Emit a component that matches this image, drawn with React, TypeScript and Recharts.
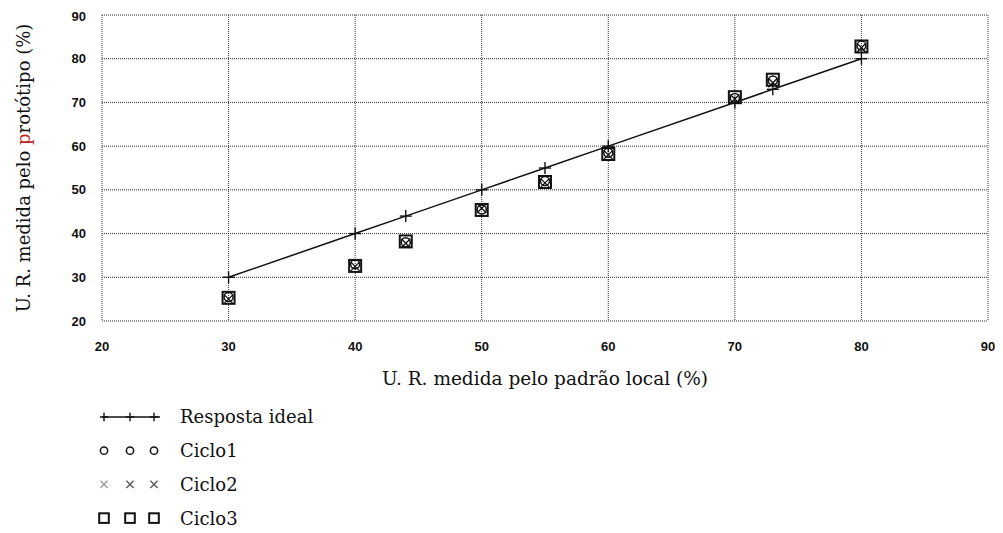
import React from "react";
import {
  ComposedChart,
  Line,
  XAxis,
  YAxis,
  CartesianGrid,
  Legend,
} from "recharts";

// U.R. from the local reference (x) vs. U.R. read by the prototype (y)
const padraoLocal = [30, 40, 44, 50, 55, 60, 70, 73, 80];
const respostaIdeal = [30, 40, 44, 50, 55, 60, 70, 73, 80];
const ciclo1 = [25.5, 33, 38, 45.5, 52, 58.5, 71, 75, 83];
const ciclo2 = [25, 32.5, 37.8, 45.8, 51.6, 58, 70.8, 74.5, 82.5];
const ciclo3 = [25.3, 32.6, 38.2, 45.4, 51.8, 58.2, 71.2, 75.2, 82.8];

const xTicks = [20, 30, 40, 50, 60, 70, 80, 90];
const yTicks = [20, 30, 40, 50, 60, 70, 80, 90];

const data = padraoLocal.map((x, i) => ({
  x,
  ideal: respostaIdeal[i],
  c1: ciclo1[i],
  c2: ciclo2[i],
  c3: ciclo3[i],
}));

type Mark = "plus" | "circle" | "cross" | "square";

const MARKS: Record<string, Mark> = {
  "Resposta ideal": "plus",
  Ciclo1: "circle",
  Ciclo2: "cross",
  Ciclo3: "square",
};
const LEGEND_ORDER = Object.keys(MARKS);

const SERIF = "'DejaVu Serif', 'Liberation Serif', serif";
const TICK_FONT = "'Liberation Sans', Arial, sans-serif";

function Symbol({ kind, cx, cy, s = 1, color = "#111" }: { kind: Mark; cx: number; cy: number; s?: number; color?: string }) {
  switch (kind) {
    case "plus":
      return (
        <g stroke={color} strokeWidth={1.4}>
          <line x1={cx - 6 * s} y1={cy} x2={cx + 6 * s} y2={cy} />
          <line x1={cx} y1={cy - 6 * s} x2={cx} y2={cy + 6 * s} />
        </g>
      );
    case "circle":
      return <circle cx={cx} cy={cy} r={4.5 * s} fill="none" stroke={color} strokeWidth={1.5} />;
    case "cross":
      return (
        <g stroke={color} strokeWidth={1.3}>
          <line x1={cx - 4.5 * s} y1={cy - 4.5 * s} x2={cx + 4.5 * s} y2={cy + 4.5 * s} />
          <line x1={cx - 4.5 * s} y1={cy + 4.5 * s} x2={cx + 4.5 * s} y2={cy - 4.5 * s} />
        </g>
      );
    default:
      return (
        <rect
          x={cx - 6 * s}
          y={cy - 6 * s}
          width={12 * s}
          height={12 * s}
          fill="none"
          stroke={color}
          strokeWidth={2}
        />
      );
  }
}

const dotFor = (kind: Mark, key: string) => (p: any) => {
  if (p.cx == null || p.cy == null) return <g key={`${key}-${p.index}`} />;
  return (
    <g key={`${key}-${p.index}`}>
      <Symbol kind={kind} cx={p.cx} cy={p.cy} />
    </g>
  );
};

function LegendBox({ payload }: any) {
  const rowH = 33.7;
  const items = [...(payload || [])].sort(
    (a: any, b: any) => LEGEND_ORDER.indexOf(a.value) - LEGEND_ORDER.indexOf(b.value)
  );
  return (
    <svg width={300} height={130} style={{ display: "block" }}>
      {items.map((item: any, i: number) => {
        const kind = MARKS[item.value];
        const cy = 12 + i * rowH;
        const xs = [10, 36, 60];
        return (
          <g key={item.value}>
            {kind === "plus" && (
              <line x1={8} y1={cy} x2={66} y2={cy} stroke="#111" strokeWidth={1.3} />
            )}
            {xs.map((sx, j) => (
              <Symbol
                key={j}
                kind={kind}
                cx={sx}
                cy={cy}
                s={kind === "plus" ? 0.7 : 0.8}
                color={kind === "cross" ? (j === 0 ? "#999" : "#555") : "#111"}
              />
            ))}
            <text
              x={86}
              y={cy}
              dy="0.36em"
              fontFamily={SERIF}
              fontSize={18}
              fill="#111"
            >
              {item.value}
            </text>
          </g>
        );
      })}
    </svg>
  );
}

export default function App() {
  return (
    <div style={{ width: 987, height: 517, background: "#fff" }}>
      <ComposedChart
        width={987}
        height={517}
        data={data}
        margin={{ top: 7, right: 7, left: 0, bottom: 134 }}
      >
        <CartesianGrid
          stroke="#333"
          strokeDasharray="1 1"
          strokeWidth={1}
          verticalValues={xTicks}
          horizontalValues={yTicks}
        />
        <XAxis
          dataKey="x"
          type="number"
          domain={[20, 90]}
          ticks={xTicks}
          tickLine={false}
          axisLine={false}
          tickSize={0}
          tickMargin={21}
          height={70}
          tick={{ fontFamily: TICK_FONT, fontSize: 13, fontWeight: 700, fill: "#111" }}
          label={{
            content: ({ viewBox }: any) => (
              <text
                x={viewBox.x + viewBox.width / 2}
                y={viewBox.y + 64}
                textAnchor="middle"
                fontFamily={SERIF}
                fontSize={18.5}
                fill="#111"
              >
                U. R. medida pelo padrão local (%)
              </text>
            ),
          }}
        />
        <YAxis
          type="number"
          domain={[20, 90]}
          ticks={yTicks}
          tickLine={false}
          axisLine={false}
          tickSize={0}
          tickMargin={16}
          width={94}
          tick={{ fontFamily: TICK_FONT, fontSize: 13, fontWeight: 700, fill: "#111" }}
          label={{
            content: ({ viewBox }: any) => {
              const cx = 16;
              const cy = viewBox.y + viewBox.height / 2;
              return (
                <text
                  x={cx}
                  y={cy}
                  transform={`rotate(-90 ${cx} ${cy})`}
                  textAnchor="middle"
                  dy="0.36em"
                  fontFamily={SERIF}
                  fontSize={18}
                  fill="#111"
                >
                  U. R. medida pelo <tspan fill="#c0262a">p</tspan>rotótipo (%)
                </text>
              );
            },
          }}
        />
        <Legend
          layout="horizontal"
          align="center"
          verticalAlign="middle"
          content={<LegendBox />}
          wrapperStyle={{ position: "absolute", left: 86, top: 397, width: 300 }}
        />
        <Line
          name="Resposta ideal"
          dataKey="ideal"
          stroke="#111"
          strokeWidth={1.5}
          dot={dotFor("plus", "ideal")}
          activeDot={false}
          isAnimationActive={false}
        />
        <Line
          name="Ciclo1"
          dataKey="c1"
          stroke="none"
          dot={dotFor("circle", "c1")}
          activeDot={false}
          isAnimationActive={false}
        />
        <Line
          name="Ciclo2"
          dataKey="c2"
          stroke="none"
          dot={dotFor("cross", "c2")}
          activeDot={false}
          isAnimationActive={false}
        />
        <Line
          name="Ciclo3"
          dataKey="c3"
          stroke="none"
          dot={dotFor("square", "c3")}
          activeDot={false}
          isAnimationActive={false}
        />
      </ComposedChart>
    </div>
  );
}
